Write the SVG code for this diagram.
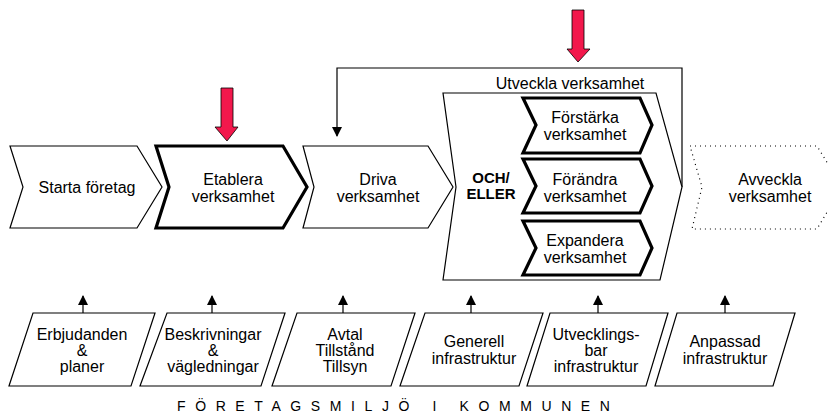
<svg xmlns="http://www.w3.org/2000/svg" width="828" height="413" viewBox="0 0 828 413">
<defs>
<style>
text{font-family:"Liberation Sans",Arial,sans-serif;font-size:16px;fill:#000;text-anchor:middle}
.thin{fill:#fff;stroke:#000;stroke-width:1.2}
.thick{fill:#fff;stroke:#000;stroke-width:3.2;stroke-linejoin:miter}
.dot{fill:#fff;stroke:#000;stroke-width:1.2;stroke-dasharray:1 4}
.red{fill:#f2184c;stroke:#000;stroke-width:0.8}
.bold{font-weight:bold;font-size:15px}
.line{fill:none;stroke:#000;stroke-width:1.2}
</style>
<marker id="ah" markerWidth="10" markerHeight="10" refX="9" refY="5" orient="auto" markerUnits="userSpaceOnUse">
<path d="M0,0 L10,5 L0,10 Z" fill="#000"/>
</marker>
</defs>
<rect width="828" height="413" fill="#fff"/>

<g id="connectors">
<polyline class="line" points="682,187 682,68 337,68 337,136" marker-end="url(#ah)"/>
<line class="line" x1="83" y1="313" x2="83" y2="296" marker-end="url(#ah)"/>
<line class="line" x1="212" y1="313" x2="212" y2="296" marker-end="url(#ah)"/>
<line class="line" x1="343" y1="313" x2="343" y2="296" marker-end="url(#ah)"/>
<line class="line" x1="471" y1="313" x2="471" y2="296" marker-end="url(#ah)"/>
<line class="line" x1="598" y1="313" x2="598" y2="296" marker-end="url(#ah)"/>
<line class="line" x1="725" y1="313" x2="725" y2="296" marker-end="url(#ah)"/>
</g>

<g id="starta">
<path class="thin" d="M10,146 L137,146 L162,187 L137,228 L10,228 L23,187 Z"/>
<text x="87" y="193">Starta företag</text>
</g>

<g id="etablera">
<path class="thick" d="M156,146 L283,146 L307,187 L283,228 L156,228 L169,187 Z"/>
<text x="233" y="185">Etablera</text>
<text x="233" y="202">verksamhet</text>
</g>

<g id="driva">
<path class="thin" d="M303,146 L428,146 L453,187 L428,228 L303,228 L314,187 Z"/>
<text x="378" y="185">Driva</text>
<text x="378" y="202">verksamhet</text>
</g>

<g id="utveckla">
<path class="thin" d="M443,93 L656,93 L682,187 L660,280 L443,280 L456,187 Z"/>
<text x="570" y="89">Utveckla verksamhet</text>
<text class="bold" x="491" y="183">OCH/</text>
<text class="bold" x="491" y="199">ELLER</text>
</g>

<g id="forstarka">
<path class="thick" d="M523,98 L640,98 L652,125 L640,153 L523,153 L536,125 Z"/>
<text x="585" y="123">Förstärka</text>
<text x="585" y="140">verksamhet</text>
</g>

<g id="forandra">
<path class="thick" d="M523,159 L640,159 L652,186 L640,213 L523,213 L536,186 Z"/>
<text x="585" y="185">Förändra</text>
<text x="585" y="202">verksamhet</text>
</g>

<g id="expandera">
<path class="thick" d="M523,221 L640,221 L652,248 L640,275 L523,275 L536,248 Z"/>
<text x="585" y="246">Expandera</text>
<text x="585" y="263">verksamhet</text>
</g>

<g id="avveckla">
<path class="dot" d="M690,146 L817,146 L842,187 L817,229 L692,229 L702,187 Z"/>
<text x="770" y="185">Avveckla</text>
<text x="770" y="202">verksamhet</text>
</g>

<g id="pil1">
<path class="red" d="M221,88 L233,88 L233,127 L238,127 L227,141 L215,127 L221,127 Z"/>
</g>
<g id="pil2">
<path class="red" d="M572,10 L584,10 L584,49 L590,49 L578,62 L567,49 L572,49 Z"/>
</g>

<g id="erbjudanden">
<path class="thin" d="M33,313 L155,313 L131,386 L9,386 Z"/>
<text x="82" y="340">Erbjudanden</text>
<text x="82" y="356">&amp;</text>
<text x="82" y="372">planer</text>
</g>

<g id="beskrivningar">
<path class="thin" d="M167,313 L285,313 L261,386 L140,386 Z"/>
<text x="213" y="340">Beskrivningar</text>
<text x="213" y="356">&amp;</text>
<text x="213" y="372">vägledningar</text>
</g>

<g id="avtal">
<path class="thin" d="M297,313 L415,313 L391,386 L272,386 Z"/>
<text x="345" y="340">Avtal</text>
<text x="345" y="356">Tillstånd</text>
<text x="345" y="372">Tillsyn</text>
</g>

<g id="generell">
<path class="thin" d="M425,313 L543,313 L519,386 L400,386 Z"/>
<text x="474" y="347">Generell</text>
<text x="474" y="364">infrastruktur</text>
</g>

<g id="utvecklingsbar">
<path class="thin" d="M550,313 L668,313 L646,386 L527,386 Z"/>
<text x="596" y="340">Utvecklings-</text>
<text x="596" y="356">bar</text>
<text x="596" y="372">infrastruktur</text>
</g>

<g id="anpassad">
<path class="thin" d="M677,313 L795,313 L773,386 L655,386 Z"/>
<text x="725" y="347">Anpassad</text>
<text x="725" y="364">infrastruktur</text>
</g>

<text x="177" y="411" style="text-anchor:start;font-size:14px;letter-spacing:9.6px">FÖRETAGSMILJÖ I KOMMUNEN</text>
</svg>
